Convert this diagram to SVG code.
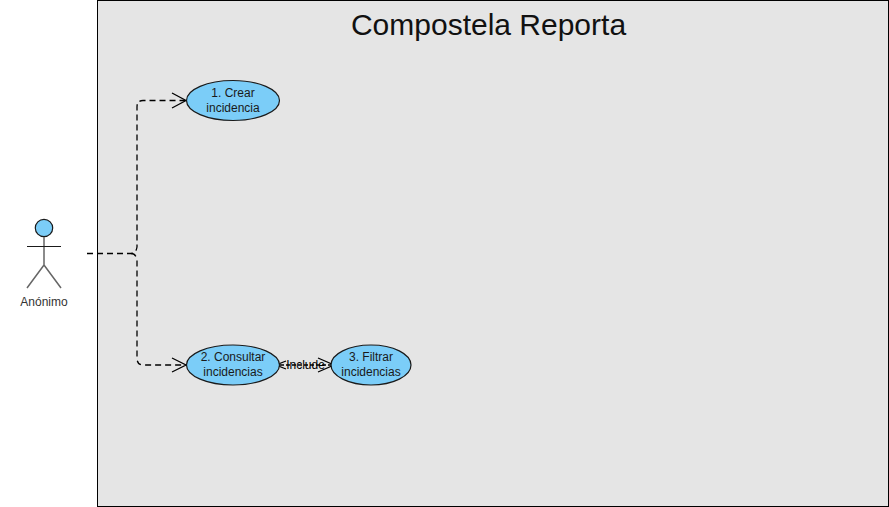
<svg xmlns="http://www.w3.org/2000/svg" width="889" height="507" viewBox="0 0 889 507">
<style>
text{font-family:"Liberation Sans",Arial,sans-serif;fill:#1a1a1a;text-anchor:middle}
.l{font-size:12px}
.uc{fill:#7bcdf8;stroke:#1a1a1a;stroke-width:1.2}
.c{fill:none;stroke:#000;stroke-width:1.300;stroke-dasharray:6 4}
.h{fill:none;stroke:#000;stroke-width:1.300}
</style>
<rect width="889" height="507" fill="#fff"/>
<g id="system">
<rect x="97.500" y="0.500" width="791" height="506" fill="#e5e5e5" stroke="#000" stroke-width="1"/>
<text x="488.500" y="35" font-size="30" style="fill:#111">Compostela Reporta</text>
</g>
<g id="connectors">
<path class="c" d="M87 253.500H131Q136 253.500 137 247V107Q137 100.500 143 100.500H185"/>
<path class="c" d="M131 253.500Q136 253.500 137 260V358Q137 365 143 365H185"/>
<path class="h" d="M172 93L186 100.500L172 108"/>
<path class="h" d="M172 358L186 365L172 372"/>
<path class="c" d="M280 365H332" style="stroke-dasharray:4 2"/>
<path class="h" d="M318 358L334 365L318 372"/>
<path class="h" d="M286 361L276 365L286 369"/>
<text x="305.500" y="369" font-size="12" style="fill:#000">Include</text>
</g>
<g id="actor">
<circle cx="44" cy="228" r="8.700" fill="#7bcdf8" stroke="#1a1a1a" stroke-width="1.200"/>
<path d="M44 237V265M44 265L27 288M44 265L61 288" fill="none" stroke="#666" stroke-width="1.500"/>
<path d="M27 246.500H61" fill="none" stroke="#1a1a1a" stroke-width="1.200"/>
<text class="l" x="44" y="306" style="fill:#333">Anónimo</text>
</g>
<g id="uc1">
<ellipse class="uc" cx="233" cy="100.500" rx="46.500" ry="20"/>
<text class="l" x="233" y="97">1. Crear</text>
<text class="l" x="233" y="112">incidencia</text>
</g>
<g id="uc2">
<ellipse class="uc" cx="233" cy="365" rx="46.500" ry="20"/>
<text class="l" x="233" y="361">2. Consultar</text>
<text class="l" x="233" y="376">incidencias</text>
</g>
<g id="uc3">
<ellipse class="uc" cx="371" cy="365" rx="40" ry="20"/>
<text class="l" x="371" y="361">3. Filtrar</text>
<text class="l" x="371" y="376">incidencias</text>
</g>
</svg>
